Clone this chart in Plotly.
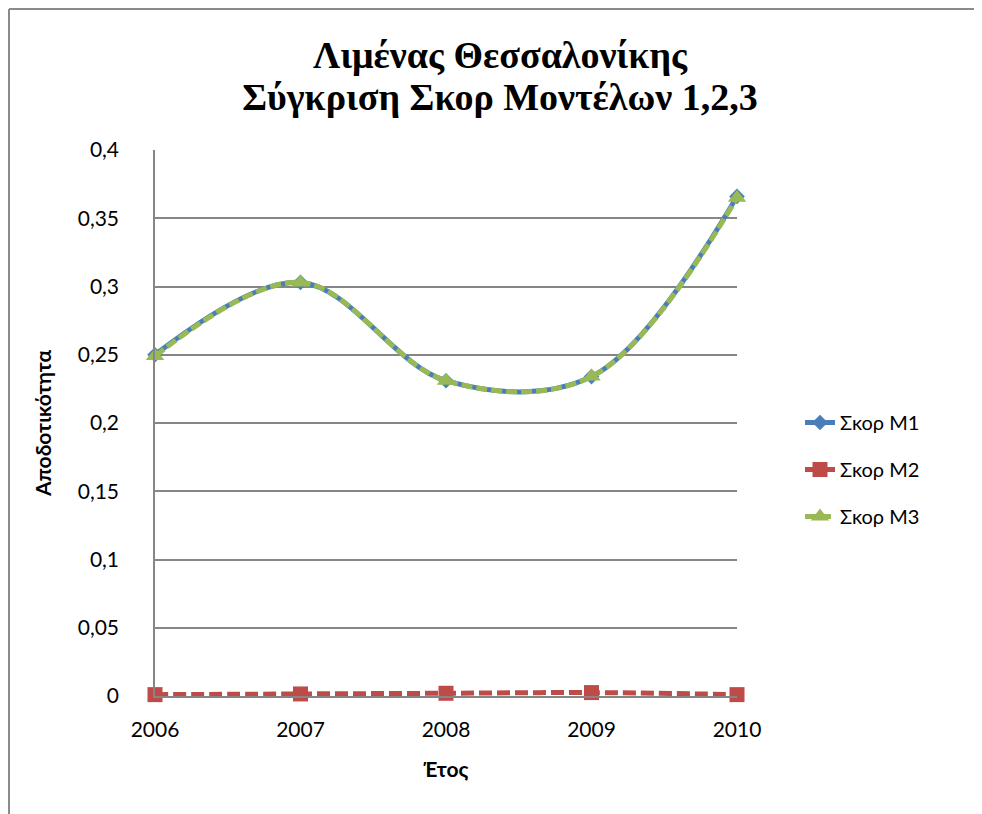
import plotly.graph_objects as go

years = [2006, 2007, 2008, 2009, 2010]
score_m1 = [0.250, 0.303, 0.231, 0.234, 0.366]
score_m2 = [0.001, 0.0015, 0.002, 0.0025, 0.001]
score_m3 = [0.249, 0.303, 0.231, 0.234, 0.365]
series_names = ["Σκορ M1", "Σκορ M2", "Σκορ M3"]
y_tickvals = [0, 0.05, 0.1, 0.15, 0.2, 0.25, 0.3, 0.35, 0.4]
y_ticktext = ["0", "0,05", "0,1", "0,15", "0,2", "0,25", "0,3", "0,35", "0,4"]
x_ticktext = ["2006", "2007", "2008", "2009", "2010"]
title_lines = ["Λιμένας Θεσσαλονίκης", "Σύγκριση Σκορ Μοντέλων 1,2,3"]
x_title = "Έτος"
y_title = "Αποδοτικότητα"

OFF = 8  # page body margin
W, H = 982 - OFF, 814 - OFF
L, T = 155 - OFF, 150 - OFF
pw, ph = 582, 546
R, B = W - L - pw, H - T - ph

def px_x(sx):
    return (sx - OFF - L) / pw

def px_y(sy):
    return (T + ph - (sy - OFF)) / ph

fig = go.Figure()
fig.add_trace(go.Scatter(
    x=years, y=score_m1, name=series_names[0], mode="lines+markers",
    line=dict(color="#4A7EBB", width=5, shape="spline", smoothing=1),
    marker=dict(symbol="diamond", size=12, color="#4A7EBB"),
    cliponaxis=False, legendgroup="a"))
fig.add_trace(go.Scatter(
    x=years, y=score_m2, name=series_names[1], mode="lines+markers",
    line=dict(color="#BE4B48", width=5, dash="13px,5px", shape="spline", smoothing=1),
    marker=dict(symbol="square", size=15, color="#BE4B48"),
    cliponaxis=False, legendgroup="b"))
fig.add_trace(go.Scatter(
    x=years, y=score_m3, name=series_names[2], mode="lines+markers",
    line=dict(color="#98B954", width=5, dash="11px,4px", shape="spline", smoothing=1),
    marker=dict(symbol="triangle-up", size=16, color="#98B954"),
    cliponaxis=False, legendgroup="c"))

title_html = "<br>".join(f"<span style='font-size:38px'>{t}</span>" for t in title_lines)

border = dict(color="#8a8a8a", width=2)

fig.update_layout(
    width=W, height=H,
    margin=dict(l=L, r=R, t=T, b=B, autoexpand=False),
    paper_bgcolor="white", plot_bgcolor="white",
    title=dict(text=title_html, x=(500 - OFF) / W, xref="container", xanchor="center",
               y=1 - (68 - OFF) / H, yref="container", yanchor="middle",
               font=dict(family="Liberation Serif", size=32, color="#000000", weight="bold")),
    font=dict(family="Lato", size=21, color="#000000"),
    legend=dict(x=px_x(800), y=px_y(403), xanchor="left", yanchor="top",
                font=dict(family="Lato", size=20, color="#000000"),
                tracegroupgap=18, bgcolor="rgba(0,0,0,0)"),
    showlegend=True,
    shapes=[
        dict(type="line", xref="paper", yref="paper",
             x0=px_x(9), x1=px_x(1100), y0=px_y(9), y1=px_y(9), line=border, layer="below"),
        dict(type="line", xref="paper", yref="paper",
             x0=px_x(9), x1=px_x(9), y0=px_y(9), y1=px_y(900), line=border, layer="below"),
    ],
)

fig.update_xaxes(
    range=[2006, 2010], tickvals=years, ticktext=x_ticktext,
    showgrid=False, zeroline=False, showline=True, linecolor="#868686", linewidth=1.5,
    ticks="", ticklabelstandoff=14,
    tickfont=dict(family="Lato", size=21, color="#000000"),
    title=dict(text=x_title, standoff=22,
               font=dict(family="Lato", size=21, color="#000000", weight="bold")))

fig.update_yaxes(
    range=[0, 0.4], tickvals=y_tickvals, ticktext=y_ticktext,
    showgrid=True, gridcolor="#868686", gridwidth=1.5,
    zeroline=False, showline=True, linecolor="#868686", linewidth=1.5,
    ticks="", ticklabelstandoff=30,
    tickfont=dict(family="Lato", size=21, color="#000000"),
    title=dict(text=y_title, standoff=20,
               font=dict(family="Lato", size=21, color="#000000", weight="bold")))

fig.write_html("out.html")
